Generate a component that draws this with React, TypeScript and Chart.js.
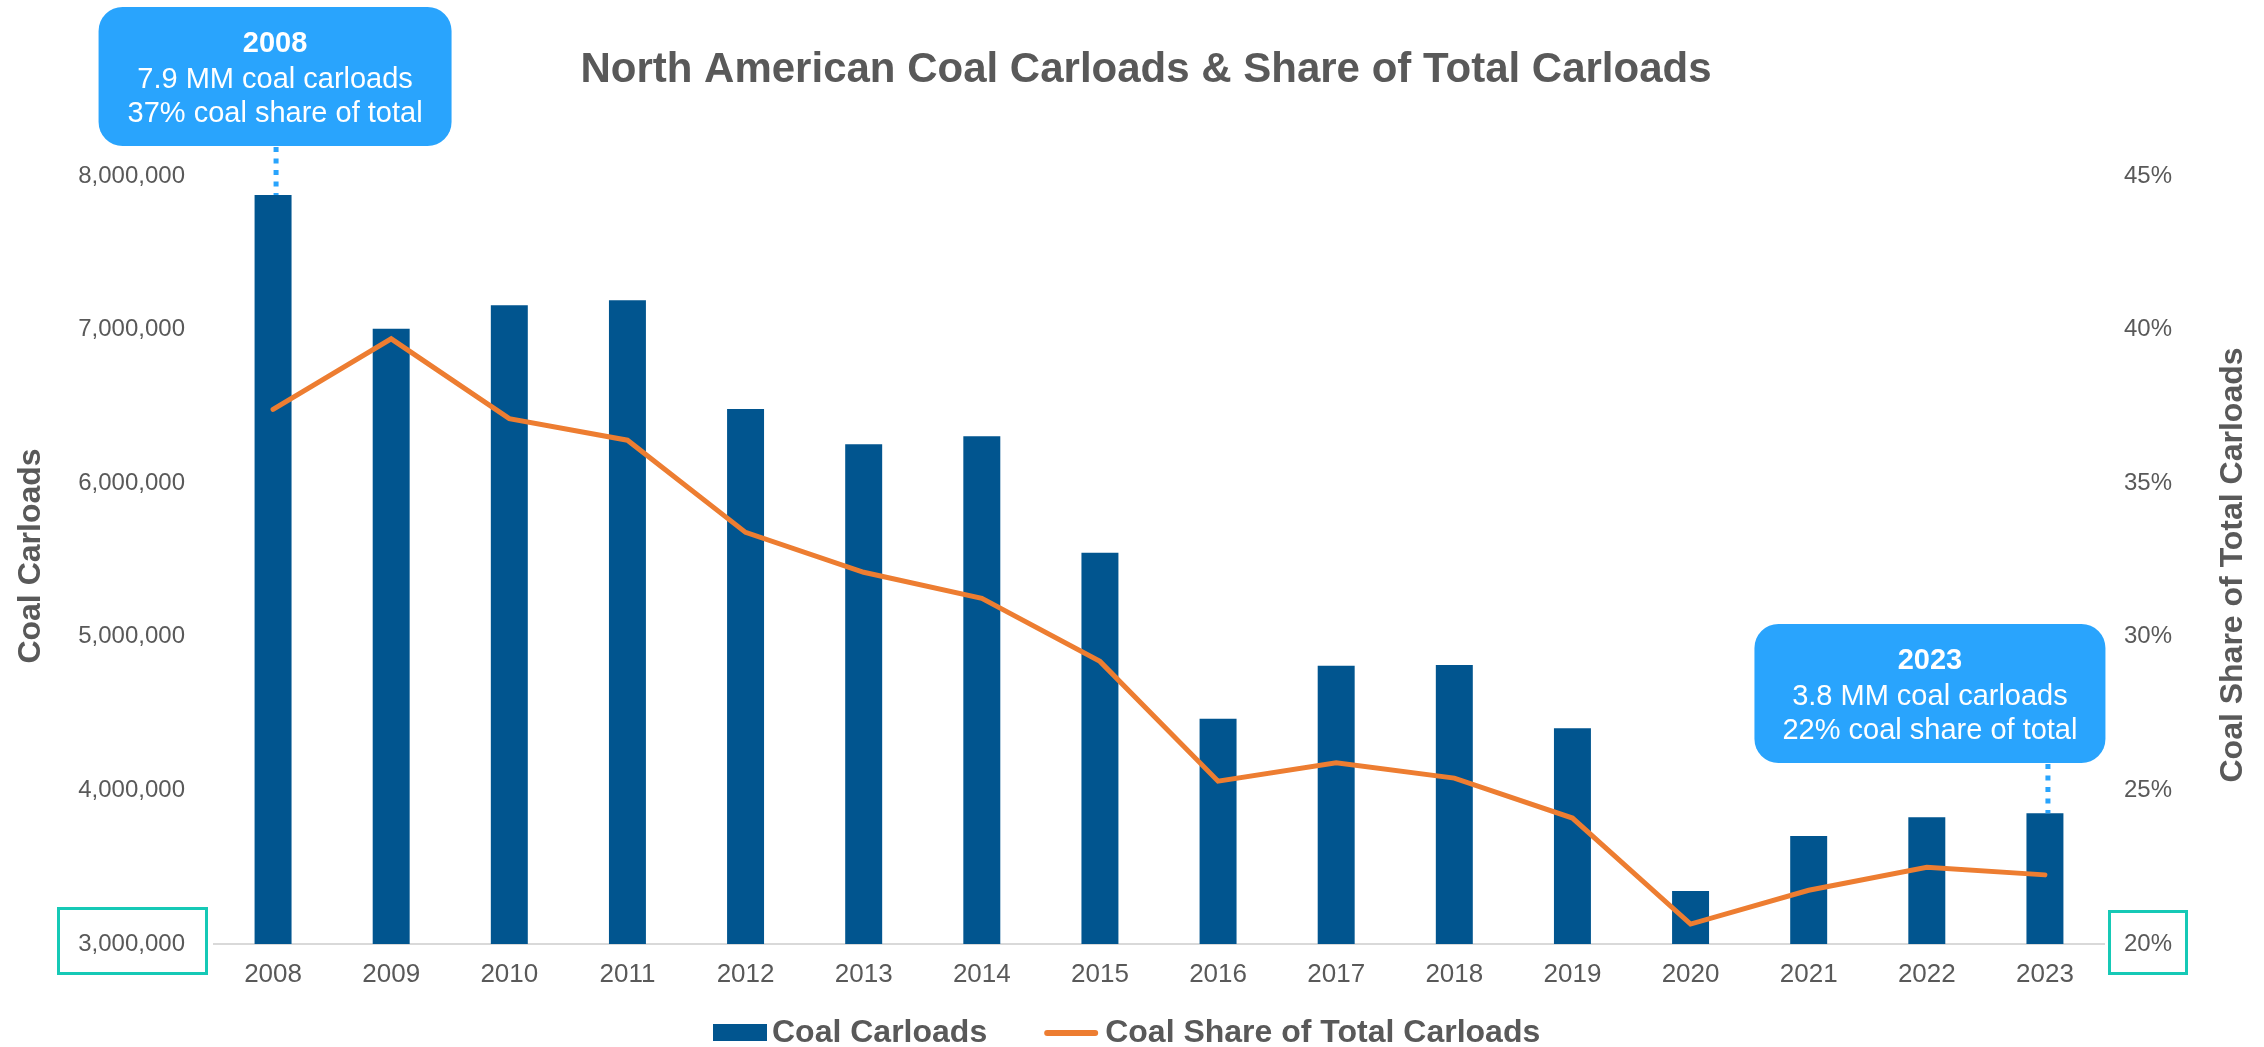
import React, { useEffect, useRef } from 'react';
import { Chart, registerables } from 'chart.js';

Chart.register(...registerables);

// ---------------- data ----------------
const years = ['2008', '2009', '2010', '2011', '2012', '2013', '2014', '2015', '2016', '2017', '2018', '2019', '2020', '2021', '2022', '2023'];
const coalCarloads = [7876000, 7006000, 7158000, 7191000, 6483000, 6253000, 6305000, 5548000, 4467000, 4812000, 4816000, 4404000, 3345000, 3703000, 3825000, 3851000];
const coalSharePct = [37.4, 39.7, 37.1, 36.4, 33.4, 32.1, 31.25, 29.2, 25.3, 25.9, 25.4, 24.1, 20.65, 21.75, 22.5, 22.25];

const leftAxisMin = 3000000;
const leftAxisMax = 8000000;
const leftAxisStep = 1000000;
const rightAxisMin = 20;
const rightAxisMax = 45;
const rightAxisStep = 5;

const titleText = 'North American Coal Carloads & Share of Total Carloads';
const leftAxisTitle = 'Coal Carloads';
const rightAxisTitle = 'Coal Share of Total Carloads';
const seriesLabels = ['Coal Carloads', 'Coal Share of Total Carloads'];
const calloutYears = ['2008', '2023'];
const calloutTexts = [
  ['2008', '7.9 MM coal carloads', '37% coal share of total'],
  ['2023', '3.8 MM coal carloads', '22% coal share of total'],
];

// ---------------- styles / layout ----------------
const W = 2264;
const H = 1047;
const FONT = "'Liberation Sans', Arial, Helvetica, sans-serif";
const GREY = '#595959';
const BAR_COLOR = '#01558F';
const LINE_COLOR = '#ED7D31';
const CALLOUT_COLOR = '#29A4FD';
const TEAL = '#16C9B6';
const AXIS_LINE = '#D9D9D9';

const PLOT_TOP = 176;
const PLOT_BOTTOM = 944;
const PLOT_LEFT = 214;
const PLOT_RIGHT = 2104;

const calloutBoxes = [
  { dx: 2, top: 7, w: 353, h: 139 },
  { dx: -115, top: 624, w: 351, h: 139 },
];

function drawRotated(ctx: CanvasRenderingContext2D, text: string, cx: number, cy: number, size: number) {
  ctx.save();
  ctx.translate(cx, cy);
  ctx.rotate(-Math.PI / 2);
  ctx.font = `bold ${size}px ${FONT}`;
  ctx.fillStyle = GREY;
  ctx.textAlign = 'center';
  ctx.textBaseline = 'alphabetic';
  ctx.fillText(text, 0, size * 0.36);
  ctx.restore();
}

function roundRectPath(ctx: CanvasRenderingContext2D, x: number, y: number, w: number, h: number, r: number) {
  ctx.beginPath();
  ctx.moveTo(x + r, y);
  ctx.lineTo(x + w - r, y);
  ctx.arcTo(x + w, y, x + w, y + r, r);
  ctx.lineTo(x + w, y + h - r);
  ctx.arcTo(x + w, y + h, x + w - r, y + h, r);
  ctx.lineTo(x + r, y + h);
  ctx.arcTo(x, y + h, x, y + h - r, r);
  ctx.lineTo(x, y + r);
  ctx.arcTo(x, y, x + r, y, r);
  ctx.closePath();
}

const overlayPlugin = {
  id: 'overlay',
  afterDraw(chart: any) {
    const ctx: CanvasRenderingContext2D = chart.ctx;
    const xs = chart.scales.x;
    const yL = chart.scales.yLeft;
    const yR = chart.scales.yRight;
    ctx.save();

    // Title
    ctx.fillStyle = GREY;
    ctx.font = `bold 42px ${FONT}`;
    ctx.textAlign = 'center';
    ctx.textBaseline = 'alphabetic';
    ctx.fillText(titleText, 1146, 82);

    // Axis titles
    drawRotated(ctx, leftAxisTitle, 28, 556, 32);
    drawRotated(ctx, rightAxisTitle, 2230, 565, 32);

    // Teal highlight boxes around the axis minimum labels
    ctx.strokeStyle = TEAL;
    ctx.lineWidth = 3;
    const yMinL = yL.getPixelForValue(leftAxisMin);
    const yMinR = yR.getPixelForValue(rightAxisMin);
    ctx.strokeRect(58.5, yMinL - 35.5, 148, 65);
    ctx.strokeRect(2109.5, yMinR - 32.5, 77, 62);

    // Callouts
    calloutYears.forEach((yr, i) => {
      const idx = years.indexOf(yr);
      const bx = xs.getPixelForValue(idx);
      const by = yL.getPixelForValue(coalCarloads[idx]);
      const box = calloutBoxes[i];
      const cx = bx + box.dx;
      const left = cx - box.w / 2;
      // dotted connector
      ctx.save();
      ctx.strokeStyle = CALLOUT_COLOR;
      ctx.lineWidth = 5;
      ctx.setLineDash([5, 6.5]);
      ctx.beginPath();
      ctx.moveTo(bx + 3, box.top + box.h + 1);
      ctx.lineTo(bx + 3, by);
      ctx.stroke();
      ctx.restore();
      // box
      ctx.fillStyle = CALLOUT_COLOR;
      roundRectPath(ctx, left, box.top, box.w, box.h, 24);
      ctx.fill();
      // text
      ctx.fillStyle = '#FFFFFF';
      ctx.textAlign = 'center';
      ctx.textBaseline = 'alphabetic';
      const lines = calloutTexts[i];
      ctx.font = `bold 29px ${FONT}`;
      ctx.fillText(lines[0], cx, box.top + 45);
      ctx.font = `29px ${FONT}`;
      ctx.fillText(lines[1], cx, box.top + 81);
      ctx.fillText(lines[2], cx, box.top + 115);
    });

    // Legend
    ctx.font = `bold 32px ${FONT}`;
    ctx.textAlign = 'left';
    ctx.textBaseline = 'alphabetic';
    let lx = 713;
    ctx.fillStyle = BAR_COLOR;
    ctx.fillRect(lx, 1024, 54, 17);
    lx += 59;
    ctx.fillStyle = GREY;
    ctx.fillText(seriesLabels[0], lx, 1042);
    lx += ctx.measureText(seriesLabels[0]).width + 57;
    ctx.strokeStyle = LINE_COLOR;
    ctx.lineWidth = 6;
    ctx.lineCap = 'round';
    ctx.beginPath();
    ctx.moveTo(lx + 3, 1033);
    ctx.lineTo(lx + 51, 1033);
    ctx.stroke();
    lx += 61;
    ctx.fillStyle = GREY;
    ctx.fillText(seriesLabels[1], lx, 1042);

    ctx.restore();
  },
};

export default function App() {
  const canvasRef = useRef<HTMLCanvasElement | null>(null);

  useEffect(() => {
    document.body.style.margin = '0';
    document.body.style.overflow = 'hidden';
    const canvas = canvasRef.current;
    if (!canvas) return;
    const chart = new Chart(canvas, {
      type: 'bar',
      data: {
        labels: years,
        datasets: [
          {
            type: 'line',
            label: seriesLabels[1],
            data: coalSharePct,
            yAxisID: 'yRight',
            borderColor: LINE_COLOR,
            backgroundColor: LINE_COLOR,
            borderWidth: 5,
            pointRadius: 0,
            tension: 0,
            borderCapStyle: 'round',
            order: 0,
          } as any,
          {
            type: 'bar',
            label: seriesLabels[0],
            data: coalCarloads,
            yAxisID: 'yLeft',
            backgroundColor: BAR_COLOR,
            barPercentage: 0.313,
            categoryPercentage: 1,
            order: 1,
          } as any,
        ],
      },
      options: {
        responsive: false,
        animation: false,
        devicePixelRatio: 1,
        layout: { padding: { top: PLOT_TOP, left: 0, right: 0, bottom: 0 } },
        plugins: {
          legend: { display: false },
          title: { display: false },
          tooltip: { enabled: false },
        },
        scales: {
          x: {
            type: 'category',
            offset: true,
            grid: { display: false, drawTicks: false },
            border: { display: true, color: AXIS_LINE, width: 2 },
            ticks: { font: { family: FONT, size: 26 }, color: GREY, padding: 15, maxRotation: 0, autoSkip: false },
            afterFit: (s: any) => { s.height = H - PLOT_BOTTOM; },
          },
          yLeft: {
            type: 'linear',
            position: 'left',
            min: leftAxisMin,
            max: leftAxisMax,
            ticks: {
              stepSize: leftAxisStep,
              callback: (v: any) => Number(v).toLocaleString('en-US'),
              font: { family: FONT, size: 24 },
              color: GREY,
              padding: 29,
            },
            grid: { display: false, drawTicks: false },
            border: { display: false },
            afterFit: (s: any) => { s.width = PLOT_LEFT; },
          },
          yRight: {
            type: 'linear',
            position: 'right',
            min: rightAxisMin,
            max: rightAxisMax,
            ticks: {
              stepSize: rightAxisStep,
              callback: (v: any) => `${v}%`,
              font: { family: FONT, size: 24 },
              color: GREY,
              padding: 20,
            },
            grid: { display: false, drawTicks: false },
            border: { display: false },
            afterFit: (s: any) => { s.width = W - PLOT_RIGHT; },
          },
        },
      } as any,
      plugins: [overlayPlugin],
    });
    return () => chart.destroy();
  }, []);

  return <canvas ref={canvasRef} width={W} height={H} style={{ display: 'block', width: W, height: H }} />;
}
